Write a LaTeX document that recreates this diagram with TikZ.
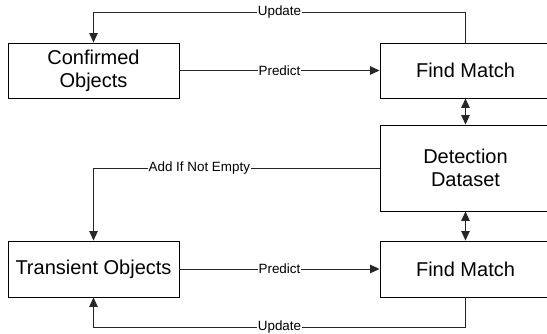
\documentclass[tikz,border=0pt]{standalone}
\usepackage{fontspec}
\setmainfont{Liberation Sans}
\usetikzlibrary{arrows.meta}
\begin{document}
\begin{tikzpicture}[x=1pt,y=-1pt,
  box/.style={draw=black,line width=0.9pt,fill=white,minimum width=171pt,align=center,inner sep=0pt,
    font=\fontsize{20}{23}\selectfont},
  lbl/.style={fill=white,inner sep=0.6pt,font=\fontsize{13.4}{15}\selectfont},
  conn/.style={draw=black!85,line width=0.9pt},
  tip/.tip={Triangle[length=9.5pt,width=8.5pt]},
  arr/.style={conn,-tip},
  darr/.style={conn,tip-tip}]
\useasboundingbox (0,0) rectangle (547,334);
\node[box,minimum height=55pt] (co) at (93.5,70.5) {Confirmed\\Objects};
\node[box,minimum height=55pt] (fm1) at (465.5,70.5) {Find Match};
\node[box,minimum height=86pt] (det) at (465.5,168) {Detection\\Dataset};
\node[box,minimum height=56pt] (fm2) at (465.5,269) {Find Match};
\node[box,minimum height=56pt] (tr) at (93.5,269) {Transient Objects};
\coordinate (top) at (0,12);
\coordinate (bot) at (0,327);
\draw[arr] (co.east) -- node[lbl]{Predict} (fm1.west);
\draw[arr] (tr.east) -- node[lbl]{Predict} (fm2.west);
\draw[arr] (fm1.north) -- (fm1.north |- top) -- node[lbl]{Update} (co.north |- top) -- (co.north);
\draw[arr] (fm2.south) -- (fm2.south |- bot) -- node[lbl]{Update} (tr.south |- bot) -- (tr.south);
\draw[arr] (det.west) -- node[lbl,pos=0.63]{Add If Not Empty} (tr.north |- det.west) -- (tr.north);
\draw[darr] (fm1.south) -- (det.north);
\draw[darr] (det.south) -- (fm2.north);
\end{tikzpicture}
\end{document}
